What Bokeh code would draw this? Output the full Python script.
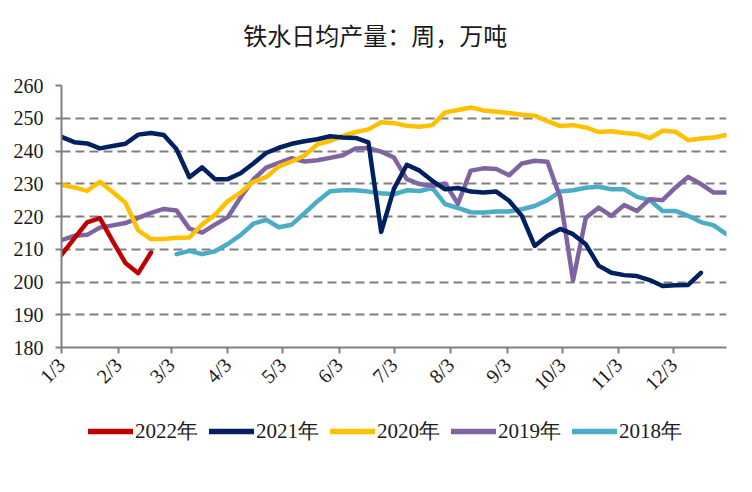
from bokeh.plotting import figure
from bokeh.models import (Range1d, FixedTicker, Legend, LegendItem, Label)
from bokeh.layouts import column
from bokeh.embed import file_html
from bokeh.resources import INLINE
import math

# ---- data (weekly values, 万吨/日) ----
tick_days = [0, 31, 60, 91, 121, 152, 182, 213, 244, 274, 305, 335]
tick_labels = ["1/3", "2/3", "3/3", "4/3", "5/3", "6/3", "7/3", "8/3", "9/3", "10/3", "11/3", "12/3"]

y2022 = [208.3, 213.3, 218.2, 219.5, 212.5, 205.8, 202.7, 209.0]
start2022 = 0

y2021 = [244.3, 242.7, 242.3, 240.8, 241.5, 242.2, 245.0, 245.5, 244.9, 240.5,
         232.0, 235.0, 231.4, 231.4, 233.2, 236.2, 239.4, 241.0, 242.2, 243.0,
         243.6, 244.5, 244.1, 244.0, 242.6, 215.3, 228.5, 235.8, 234.0, 230.9,
         228.3, 228.7, 227.6, 227.3, 227.6, 224.8, 220.2, 211.0, 214.1, 216.2,
         214.6, 211.5, 205.0, 202.8, 202.1, 201.8, 200.6, 198.8, 199.0, 199.1,
         202.8]
start2021 = 0

y2020 = [229.7, 228.9, 227.8, 230.6, 227.5, 224.2, 215.8, 213.1, 213.1, 213.5,
         213.6, 217.6, 220.5, 224.7, 227.3, 230.6, 232.0, 235.3, 236.8, 238.6,
         242.0, 243.1, 244.6, 245.8, 246.6, 248.8, 248.5, 247.7, 247.4, 247.9,
         251.8, 252.5, 253.3, 252.4, 252.0, 251.6, 251.1, 250.8, 249.1, 247.6,
         247.9, 247.2, 245.8, 246.0, 245.5, 245.2, 243.9, 246.2, 245.9, 243.3,
         243.8, 244.1, 244.9]
start2020 = 0

y2019 = [212.8, 214.1, 214.4, 216.6, 217.3, 218.0, 219.6, 221.1, 222.3, 221.8,
         216.3, 215.1, 217.5, 219.8, 225.8, 231.3, 234.9, 236.4, 237.8, 236.8,
         237.2, 237.9, 238.7, 240.8, 240.9, 239.8, 238.0, 231.4, 229.9, 229.4,
         230.1, 223.9, 234.0, 234.7, 234.5, 232.6, 236.2, 237.0, 236.7, 225.8,
         200.5, 219.6, 222.7, 220.2, 223.5, 221.7, 225.3, 225.0, 228.8, 232.1,
         229.9, 227.3, 227.3]
start2019 = 0

y2018 = [208.5, 209.5, 208.5, 209.4, 211.6, 214.3, 217.8, 219.0, 216.7, 217.5,
         221.0, 224.6, 227.7, 228.0, 228.0, 227.6, 227.1, 226.8, 228.0, 227.8,
         228.7, 223.8, 222.6, 221.3, 221.2, 221.5, 221.5, 222.2, 223.2, 225.0,
         227.6, 228.0, 228.8, 229.1, 228.3, 228.3, 226.0, 225.0, 221.7, 221.7,
         220.2, 218.3, 217.3, 214.6]
start2018 = 63

series = [
    ("2022年", y2022, start2022, "#C00000"),
    ("2021年", y2021, start2021, "#002060"),
    ("2020年", y2020, start2020, "#FFC000"),
    ("2019年", y2019, start2019, "#8064A2"),
    ("2018年", y2018, start2018, "#4BACC6"),
]

TITLE = "铁水日均产量：周，万吨"
SERIF = "Liberation Serif"
GREY = "#808080"
TXT = "#1a1a1a"

# ---- title strip ----
tf = figure(width=750, height=60, output_backend="svg", toolbar_location=None,
            x_range=Range1d(0, 364), y_range=Range1d(0, 60),
            x_axis_type=None, y_axis_type=None, min_border=0)
tf.outline_line_color = None
tf.xgrid.grid_line_color = None
tf.ygrid.grid_line_color = None
tf.add_layout(Label(x=171.8, y=26, text=TITLE, text_align="center",
                    text_baseline="middle", text_font="Noto Sans CJK SC",
                    text_font_size="24px", text_color=TXT))

# ---- main chart ----
p = figure(width=750, height=345, output_backend="svg", toolbar_location=None,
           x_range=Range1d(0, 364), y_range=Range1d(180, 260),
           min_border_left=61, min_border_right=24, min_border_top=25,
           min_border_bottom=58, title=None)
p.outline_line_color = None
p.background_fill_color = "white"

p.yaxis.ticker = FixedTicker(ticks=list(range(180, 261, 10)))
p.xaxis.ticker = FixedTicker(ticks=tick_days)
p.xaxis.major_label_overrides = {d: l for d, l in zip(tick_days, tick_labels)}
p.xaxis.major_label_orientation = math.pi / 4
for ax in (p.xaxis, p.yaxis):
    ax.axis_line_color = GREY
    ax.axis_line_width = 2
    ax.major_tick_line_color = GREY
    ax.major_tick_line_width = 2
    ax.major_tick_out = 6
    ax.major_tick_in = 0
    ax.minor_tick_line_color = None
    ax.major_label_text_font = SERIF
    ax.major_label_text_font_size = "20px"
    ax.major_label_text_color = TXT
p.yaxis.major_label_standoff = 12
p.xaxis.major_label_standoff = 8

p.xgrid.grid_line_color = None
p.ygrid.grid_line_color = GREY
p.ygrid.grid_line_width = 2
p.ygrid.grid_line_dash = "9 5"

for name, ys, start, color in reversed(series):
    xs = [start + 7 * i for i in range(len(ys))]
    p.line(xs, ys, line_color=color, line_width=4.5,
           line_join="round", line_cap="round")

# ---- legend strip ----
lg = figure(width=750, height=51, output_backend="svg", toolbar_location=None,
            x_range=Range1d(0, 1), y_range=Range1d(0, 1),
            x_axis_type=None, y_axis_type=None, min_border=0)
lg.outline_line_color = None
lg.xgrid.grid_line_color = None
lg.ygrid.grid_line_color = None
items = []
for name, ys, start, color in series:
    # off-range stub: only its legend swatch is visible
    r = lg.line(x=[-2, -1], y=[0.5, 0.5], line_color=color, line_width=5.5,
                line_cap="round")
    items.append(LegendItem(label=name, renderers=[r]))
legend = Legend(items=items, orientation="horizontal", location="center_left",
                glyph_width=45, glyph_height=20, label_standoff=2, spacing=11,
                padding=0, margin=27, border_line_color=None,
                background_fill_alpha=0,
                label_text_font=SERIF, label_text_font_size="21px",
                label_text_color=TXT)
lg.add_layout(legend, "center")

open("out.html", "w").write(file_html(column(tf, p, lg, spacing=0), INLINE))
